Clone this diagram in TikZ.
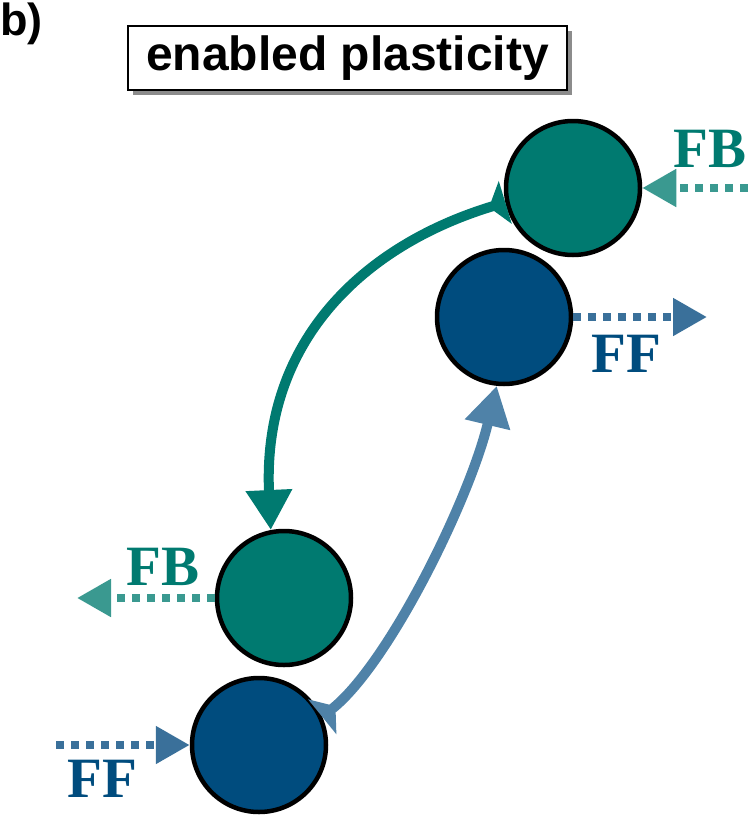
\documentclass[tikz,border=0pt]{standalone}
\usepackage{fontspec}
\setmainfont{Liberation Serif}
\newfontfamily\arialfont{Liberation Sans}
\usetikzlibrary{arrows.meta,shadows}
\definecolor{tealc}{RGB}{0,122,112}
\definecolor{bluec}{RGB}{0,76,126}
\definecolor{tealdot}{RGB}{58,153,144}
\definecolor{bluedot}{RGB}{58,112,154}
\definecolor{bluecurve}{RGB}{79,130,168}
\begin{document}
\begin{tikzpicture}[x=1pt,y=-1pt,
  circ/.style={circle, draw=black, line width=4.5pt, minimum size=134pt, inner sep=0pt},
  dotarrow/.style={line width=8pt, dash pattern=on 8pt off 7pt, -{Triangle[length=34pt,width=36pt]}},
  curvearrow/.style={line width=10pt, {Triangle[reversed,length=17pt,width=44pt]}-{Triangle[length=40pt,width=44pt]}},
  lbl/.style={font=\fontsize{57}{57}\selectfont\bfseries, anchor=base, inner sep=0pt},
  titlebox/.style={draw=black, line width=2pt, fill=white, minimum width=439pt, minimum height=64pt, inner sep=0pt,
    font=\arialfont\fontsize{48}{48}\selectfont\bfseries,
    drop shadow={shadow xshift=5pt, shadow yshift=-5pt, fill=black!45, opacity=1}}
]
\useasboundingbox (0,0) rectangle (748,819);
% label b)
\node[anchor=base west, inner sep=0pt, font=\arialfont\fontsize{45}{45}\selectfont\bfseries] (lab) at (0,35) {b)};
% title
\node[titlebox] (title) at (347.5,58) {enabled plasticity};
% circles
\node[circ, fill=tealc] (g1) at (573,188) {};
\node[circ, fill=bluec] (b1) at (504,317) {};
\node[circ, fill=tealc] (g2) at (284,598) {};
\node[circ, fill=bluec] (b2) at (259,745) {};
% free ends
\coordinate (fbin) at (748,188);
\coordinate (ffout) at (707,317);
\coordinate (fbout) at (77,598);
\coordinate (ffin) at (56,745);
% dotted arrows
\draw[dotarrow, tealdot] (fbin) -- (g1.east);
\draw[dotarrow, bluedot] (b1.east) -- (ffout);
\draw[dotarrow, tealdot] (g2.west) -- (fbout);
\draw[dotarrow, bluedot] (ffin) -- (b2.west);
% labels
\node[lbl, text=tealc] (fb1) at (710,167) {FB};
\node[lbl, text=bluec] (ff1) at (626,372) {FF};
\node[lbl, text=tealc] (fb2) at (163,585) {FB};
\node[lbl, text=bluec] (ff2) at (102,797) {FF};
% curved arrows
\draw[curvearrow, tealc] (g1.192) .. controls (365,245) and (262,340) .. (g2.101);
\draw[curvearrow, bluecurve] (b2.24) .. controls (390,662) and (470,498) .. (b1.264);
\end{tikzpicture}
\end{document}
